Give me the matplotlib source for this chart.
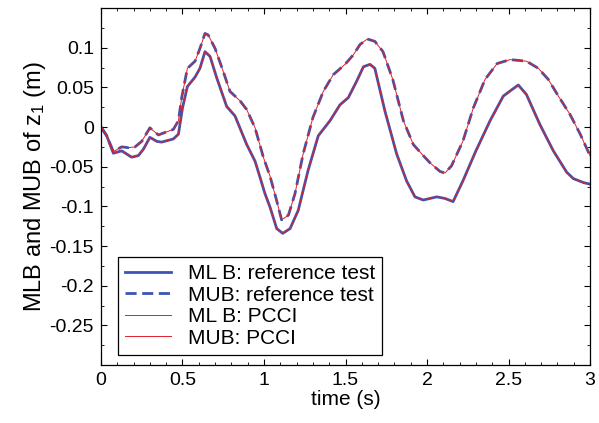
import matplotlib
matplotlib.use('Agg')
import matplotlib.pyplot as plt
from matplotlib.ticker import MultipleLocator

plt.rcParams['font.family'] = ['Liberation Sans', 'DejaVu Sans']

# MUB (upper bound)
t_mub = [0, 0.035, 0.076, 0.127, 0.168, 0.209, 0.25, 0.30, 0.352, 0.403, 0.444,
         0.475, 0.495, 0.53, 0.577, 0.607, 0.638, 0.658, 0.70, 0.75, 0.791, 0.853,
         0.894, 0.945, 0.996, 1.037, 1.078, 1.108, 1.15, 1.19, 1.24, 1.30, 1.364,
         1.425, 1.497, 1.548, 1.589, 1.634, 1.68, 1.73, 1.79, 1.855, 1.916, 1.977,
         2.018, 2.08, 2.11, 2.15, 2.22, 2.284, 2.356, 2.43, 2.51, 2.61, 2.683,
         2.744, 2.806, 2.877, 2.94, 3.0]
mub_ref = [0, -0.011, -0.031, -0.025, -0.026, -0.025, -0.018, -0.001, -0.010,
           -0.006, -0.003, 0.008, 0.037, 0.074, 0.083, 0.099, 0.118, 0.116, 0.099,
           0.070, 0.045, 0.033, 0.022, -0.001, -0.038, -0.062, -0.093, -0.117,
           -0.111, -0.084, -0.034, 0.012, 0.045, 0.066, 0.079, 0.091, 0.104, 0.111,
           0.108, 0.095, 0.060, 0.008, -0.022, -0.036, -0.045, -0.056, -0.058,
           -0.049, -0.018, 0.024, 0.060, 0.080, 0.085, 0.083, 0.074, 0.060, 0.039,
           0.016, -0.009, -0.036]

# MLB (lower bound)
t_mlb = [0, 0.035, 0.076, 0.127, 0.188, 0.229, 0.26, 0.30, 0.342, 0.372, 0.444,
         0.475, 0.50, 0.53, 0.577, 0.607, 0.638, 0.669, 0.71, 0.771, 0.822, 0.894,
         0.945, 0.975, 1.006, 1.037, 1.078, 1.115, 1.16, 1.21, 1.27, 1.333, 1.405,
         1.466, 1.517, 1.569, 1.61, 1.65, 1.68, 1.742, 1.814, 1.875, 1.926, 1.977,
         2.018, 2.06, 2.11, 2.16, 2.22, 2.30, 2.387, 2.468, 2.52, 2.56, 2.61,
         2.693, 2.775, 2.857, 2.898, 2.96, 3.0]
mlb_ref = [0, -0.011, -0.033, -0.030, -0.038, -0.036, -0.028, -0.013, -0.018,
           -0.019, -0.015, -0.009, 0.024, 0.051, 0.063, 0.074, 0.095, 0.089, 0.062,
           0.026, 0.014, -0.022, -0.043, -0.063, -0.084, -0.101, -0.128, -0.134,
           -0.128, -0.105, -0.055, -0.011, 0.008, 0.028, 0.037, 0.058, 0.076,
           0.079, 0.074, 0.020, -0.034, -0.068, -0.088, -0.092, -0.090, -0.088,
           -0.090, -0.094, -0.068, -0.030, 0.008, 0.039, 0.047, 0.053, 0.041,
           0.003, -0.030, -0.057, -0.065, -0.070, -0.072]

# PCCI results lie on top of the reference test
mlb_pcci = list(mlb_ref)
mub_pcci = list(mub_ref)

x_ticks = [0, 0.5, 1, 1.5, 2, 2.5, 3]
x_ticklabels = ['0', '0.5', '1', '1.5', '2', '2.5', '3']
y_ticks = [-0.25, -0.2, -0.15, -0.1, -0.05, 0, 0.05, 0.1]
y_ticklabels = ['-0.25', '-0.2', '-0.15', '-0.1', '-0.05', '0', '0.05', '0.1']

blue = '#3a55b4'
red = '#e02028'

fig = plt.figure(figsize=(5.99, 4.23), dpi=100)
ax = fig.add_axes([0.1686, 0.137, 0.8164, 0.844])

ax.plot(t_mlb, mlb_ref, '-', color=blue, lw=2.0, label='ML B: reference test')
ax.plot(t_mub, mub_ref, '--', color=blue, lw=2.0, dashes=(4, 2), label='MUB: reference test')
ax.plot(t_mlb, mlb_pcci, '-', color=red, lw=0.7, label='ML B: PCCI')
ax.plot(t_mub, mub_pcci, '-', color=red, lw=0.7, label='MUB: PCCI')

ax.set_xlim(0, 3)
ax.set_ylim(-0.3, 0.15)
ax.set_xticks(x_ticks)
ax.set_xticklabels(x_ticklabels)
ax.set_yticks(y_ticks)
ax.set_yticklabels(y_ticklabels)
ax.xaxis.set_minor_locator(MultipleLocator(0.1))
ax.yaxis.set_minor_locator(MultipleLocator(0.025))
ax.tick_params(which='both', direction='in', top=True, right=True, labelsize=14, pad=5)
ax.tick_params(which='major', length=4, width=0.8)
ax.tick_params(which='minor', length=2, width=0.6)
for s in ax.spines.values():
    s.set_linewidth(0.9)

ax.set_xlabel('time (s)', fontsize=15, labelpad=1)
ax.set_ylabel(r'MLB and MUB of $\mathregular{z_1}$ (m)', fontsize=17, labelpad=1)

leg = ax.legend(loc='lower left', bbox_to_anchor=(0.035, 0.028), borderaxespad=0,
                fontsize=15, handlelength=2.2, handletextpad=0.8,
                labelspacing=0.12, borderpad=0.35,
                fancybox=False, framealpha=1, edgecolor='black')
leg.get_frame().set_linewidth(0.9)

fig.savefig('out.png', dpi=100)
